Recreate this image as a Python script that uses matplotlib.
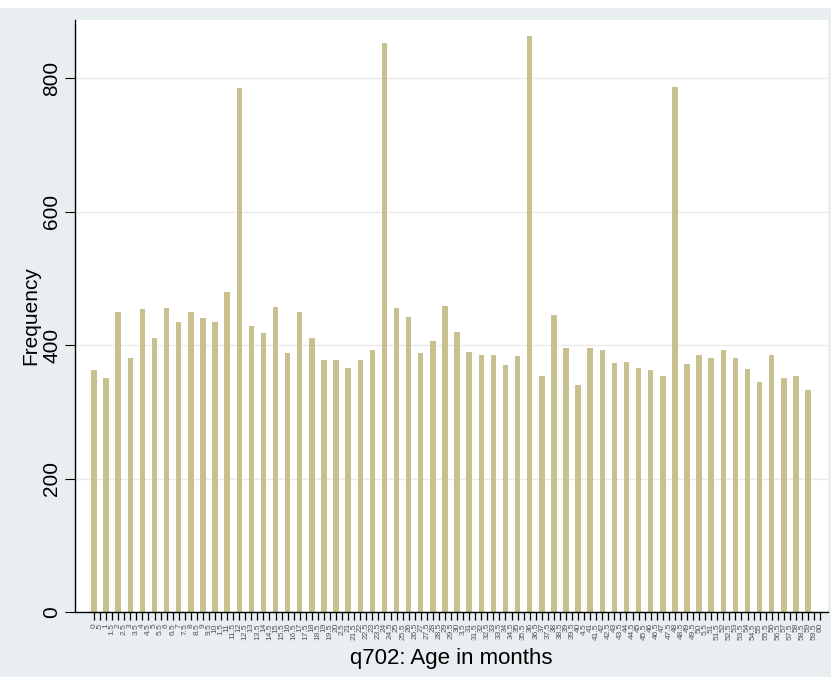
import numpy as np
import matplotlib
matplotlib.use('Agg')
import matplotlib.pyplot as plt
from matplotlib.patches import Rectangle

plt.rcParams['font.family'] = ['Liberation Sans', 'DejaVu Sans']

# frequencies, ages 0..59 months
ages = list(range(60))
freq = [362, 351, 450, 381, 454, 410, 456, 434, 449, 440, 434, 480,
        785, 429, 418, 457, 388, 450, 410, 378, 378, 366, 378, 393,
        852, 456, 442, 388, 406, 459, 419, 390, 385, 385, 370, 384,
        863, 354, 445, 396, 340, 396, 392, 373, 375, 366, 362, 354,
        786, 371, 385, 380, 393, 381, 364, 345, 385, 351, 353, 333]

y_ticks = [0, 200, 400, 600, 800]
x_ticks = np.arange(0, 60.5, 0.5)
x_ticklabels = [('%g' % t).replace('0.5', '.5') for t in x_ticks]

bg = '#e9eff1'
bar_color = '#c8c18f'

fig = plt.figure(figsize=(8.31, 6.77), dpi=100, facecolor=bg)
# white strip along the very top of the image
fig.add_artist(Rectangle((0, 1 - 8 / 677), 1, 8 / 677, transform=fig.transFigure,
                         facecolor='white', edgecolor='none', zorder=-1))

ax = fig.add_axes([75 / 831, 65 / 677, 753 / 831, 592 / 677])
ax.set_facecolor('white')

ax.bar(ages, freq, width=0.45, color=bar_color, edgecolor='none', zorder=2)

ax.set_ylim(0, 887)
ax.set_xlim(-1.57, 60.65)

ax.set_yticks(y_ticks)
ax.set_yticklabels([str(t) for t in y_ticks], rotation=90, va='center', fontsize=15)
ax.yaxis.grid(True, color='#eaeaea', linewidth=1.0, zorder=0)

ax.set_xticks(x_ticks)
ax.set_xticklabels(x_ticklabels, rotation=90, fontsize=6, color='#555555')
ax.tick_params(axis='x', length=6, width=0.9, pad=2)
ax.tick_params(axis='y', length=7, width=0.8, pad=3)

for side in ['top', 'right']:
    ax.spines[side].set_visible(False)
for side in ['left', 'bottom']:
    ax.spines[side].set_color('black')
    ax.spines[side].set_linewidth(1.0)

ax.set_ylabel('Frequency', fontsize=15, labelpad=1)
ax.set_xlabel('q702: Age in months', fontsize=16, labelpad=6)

fig.savefig('out.png', dpi=100, facecolor=bg)
